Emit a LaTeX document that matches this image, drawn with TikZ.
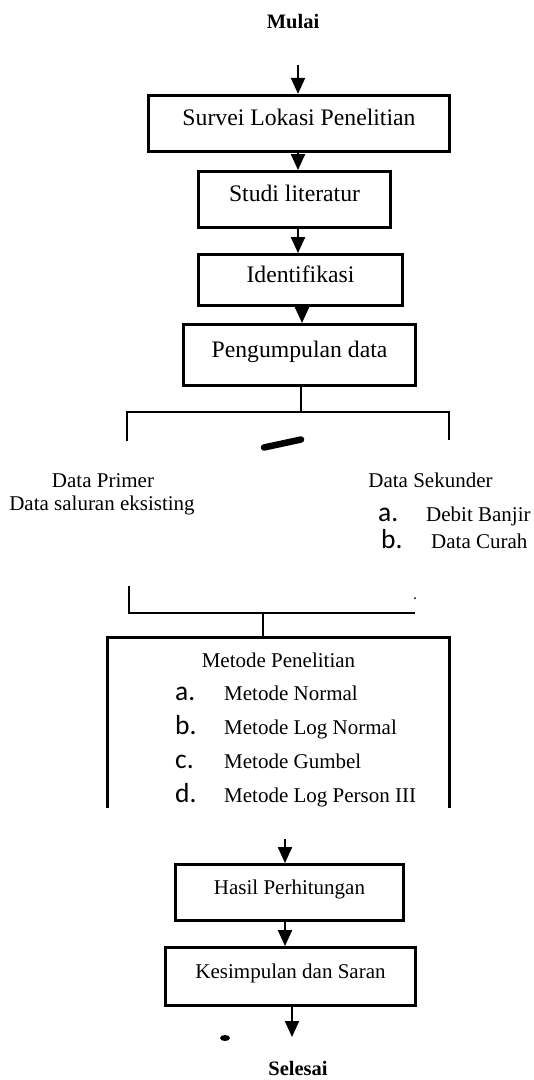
\documentclass[tikz,border=0pt]{standalone}
\usepackage{fontspec}
\setmainfont{Liberation Serif}
\newfontfamily\lblfont{Carlito}
\usetikzlibrary{arrows.meta,calc}
\begin{document}
\begin{tikzpicture}[x=1pt,y=-1pt,
  box/.style={draw, line width=2.9pt, inner sep=0pt, text height=0.7em, text depth=0.25em,
    font=\fontsize{23.7}{28}\selectfont},
  sbox/.style={box, font=\fontsize{21}{25}\selectfont},
  arr/.style={line width=2.2pt, -{Triangle[length=16pt,width=14pt]}},
  ln/.style={line width=2.2pt},
  txt/.style={font=\fontsize{21}{25}\selectfont, inner sep=0pt, anchor=base},
  ttl/.style={font=\bfseries\fontsize{20.5}{24}\selectfont, inner sep=0pt, anchor=base},
  lbl/.style={font=\lblfont\fontsize{27.5}{30}\selectfont, inner sep=0pt, anchor=base west},
  item/.style={font=\fontsize{21}{25}\selectfont, inner sep=0pt, anchor=base west}]
\useasboundingbox (0,0) rectangle (534,1080);

% title
\node[ttl] (mulai) at (293,28) {Mulai};

% boxes
\node[box, line width=3.3pt, minimum width=301pt, minimum height=56pt] (survei) at (299,123.5) {Survei Lokasi Penelitian};
\node[box, minimum width=192pt, minimum height=56pt] (studi) at (294.5,199.5) {Studi literatur};
\node[box, minimum width=204pt, minimum height=51pt] (ident) at (300.5,280) {Identifikasi};
\node[box, minimum width=232pt, minimum height=61pt] (kumpul) at (299.5,355) {Pengumpulan data};

% arrows top
\coordinate (s0) at (298,65);
\draw[arr] (s0) -- (s0 |- survei.north);
\draw[arr] (s0 |- survei.south) -- (s0 |- studi.north);
\draw[arr] (s0 |- studi.south) -- (s0 |- ident.north);
\coordinate (ax) at (302,0);
\draw[arr] (ax |- ident.south) -- (ax |- kumpul.north);

% top bracket
\coordinate (tl) at (127,441);
\coordinate (tlc) at (127,412);
\coordinate (trc) at (449,412);
\coordinate (tr) at (449,440);
\coordinate (kx) at (301,0);
\draw[ln] (kx |- kumpul.south) -- (kx |- tlc);
\draw[ln] (tl) -- (tlc) -- (trc) -- (tr);

% stray mark
\draw[line width=6.5pt, line cap=round] (264,447.5) -- (301,439.5);

% data texts
\node[txt] (dp) at (103,487) {Data Primer};
\node[txt] (dse) at (102,510) {Data saluran eksisting};
\node[txt] (ds) at (430.5,487) {Data Sekunder};
\node[lbl] (sa) at (378,521) {a.};
\node[item] (sat) at (426,521) {Debit Banjir};
\node[lbl] (sb) at (381,548) {b.};
\node[item] (sbt) at (431,548) {Data Curah};

% bottom bracket
\coordinate (bl) at (129,586);
\coordinate (bc) at (129,613);
\coordinate (br) at (415,613);
\coordinate (bm) at (263,613);
\draw[ln] (bl) -- (bc) -- (br);
\fill (415,598) circle (1pt);

% metode box (open at bottom)
\node[minimum width=342pt, minimum height=171pt, inner sep=0pt, outer sep=0pt] (metode) at (278,722.5) {};
\draw[line width=3pt] (metode.south west) -- (metode.north west) -- (metode.north east) -- (metode.south east);
\draw[ln] (bm) -- (bm |- metode.north);

\node[txt] (mt) at (278.5,667) {Metode Penelitian};
\node[lbl] (ma) at (175,700) {a.};
\node[item] (mat) at (224,700) {Metode Normal};
\node[lbl] (mb) at (175,734) {b.};
\node[item] (mbt) at (224,734) {Metode Log Normal};
\node[lbl] (mc) at (175,768) {c.};
\node[item] (mct) at (224,768) {Metode Gumbel};
\node[lbl] (md) at (175,802) {d.};
\node[item] (mdt) at (224,802) {Metode Log Person III};

% lower boxes
\node[sbox, minimum width=228pt, minimum height=56pt] (hasil) at (289.5,892.5) {Hasil Perhitungan};
\node[sbox, minimum width=250pt, minimum height=58pt] (kes) at (290.5,976.5) {Kesimpulan dan Saran};

\coordinate (h0) at (285,839);
\draw[arr] (h0) -- (h0 |- hasil.north);
\draw[arr] (h0 |- hasil.south) -- (h0 |- kes.north);
\coordinate (e0) at (292,1037);
\draw[arr] (e0 |- kes.south) -- (e0);
\fill (225,1038) ellipse (5pt and 3pt);

\node[ttl] (selesai) at (298,1075) {Selesai};
\end{tikzpicture}
\end{document}
